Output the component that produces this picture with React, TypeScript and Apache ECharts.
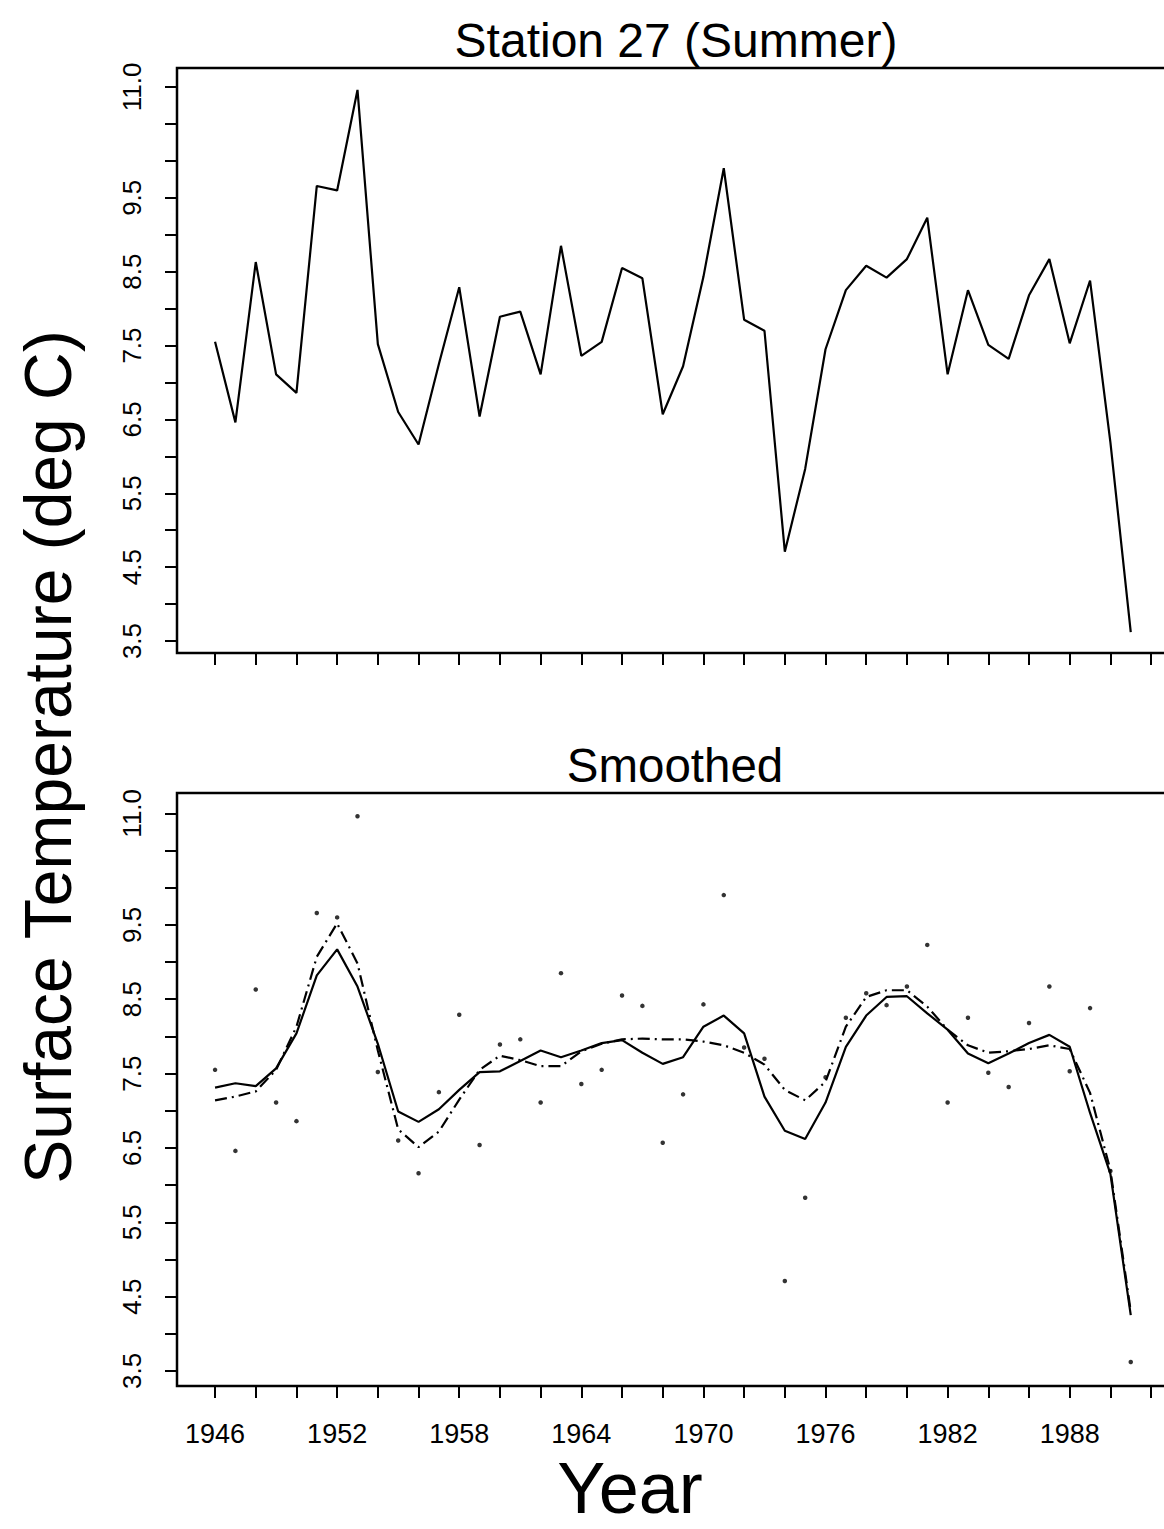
import React, { useEffect, useRef } from "react";
import * as echarts from "echarts";

const years = [
  1946, 1947, 1948, 1949, 1950, 1951, 1952, 1953, 1954, 1955,
  1956, 1957, 1958, 1959, 1960, 1961, 1962, 1963, 1964, 1965,
  1966, 1967, 1968, 1969, 1970, 1971, 1972, 1973, 1974, 1975,
  1976, 1977, 1978, 1979, 1980, 1981, 1982, 1983, 1984, 1985,
  1986, 1987, 1988, 1989, 1990, 1991,
];

const rawTemp = [
  7.55, 6.46, 8.63, 7.11, 6.86, 9.66, 9.6, 10.96, 7.52, 6.6,
  6.16, 7.25, 8.29, 6.54, 7.89, 7.96, 7.11, 8.85, 7.36, 7.55,
  8.55, 8.41, 6.57, 7.22, 8.43, 9.9, 7.85, 7.7, 4.71, 5.83,
  7.45, 8.25, 8.58, 8.42, 8.67, 9.23, 7.11, 8.25, 7.51, 7.32,
  8.18, 8.67, 7.53, 8.38, 6.19, 3.62,
];

const smoothSolid = [
  7.31, 7.37, 7.33, 7.57, 8.04, 8.82, 9.17, 8.67, 7.9, 6.99,
  6.85, 7.02, 7.28, 7.52, 7.53, 7.67, 7.81, 7.72, 7.81, 7.91,
  7.95, 7.78, 7.63, 7.72, 8.13, 8.28, 8.04, 7.19, 6.73, 6.62,
  7.11, 7.86, 8.28, 8.53, 8.54, 8.31, 8.09, 7.77, 7.64, 7.77,
  7.91, 8.02, 7.86, 6.97, 6.15, 4.25,
];

const smoothDashDot = [
  7.14, 7.19, 7.26, 7.55, 8.13, 9.07, 9.52, 8.98, 7.81, 6.75,
  6.51, 6.72, 7.15, 7.55, 7.74, 7.68, 7.6, 7.6, 7.8, 7.9,
  7.96, 7.97, 7.96, 7.96, 7.93, 7.88, 7.78, 7.62, 7.28, 7.14,
  7.39, 8.13, 8.53, 8.62, 8.62, 8.4, 8.09, 7.88, 7.78, 7.8,
  7.83, 7.88, 7.83, 7.24, 6.2, 4.3,
];

const yTickValues = [
  3.5, 4.0, 4.5, 5.0, 5.5, 6.0, 6.5, 7.0, 7.5, 8.0, 8.5, 9.0, 9.5, 10.0, 10.5, 11.0,
];
const yLabelValues = [3.5, 4.5, 5.5, 6.5, 7.5, 8.5, 9.5, 11.0];
const xTickValues = [
  1946, 1948, 1950, 1952, 1954, 1956, 1958, 1960, 1962, 1964, 1966, 1968,
  1970, 1972, 1974, 1976, 1978, 1980, 1982, 1984, 1986, 1988, 1990, 1992,
];
const xLabelValues = [1946, 1952, 1958, 1964, 1970, 1976, 1982, 1988];

const FONT = '"Liberation Sans", Arial, Helvetica, sans-serif';

export default function App() {
  const ref = useRef<HTMLDivElement>(null);

  useEffect(() => {
    if (!ref.current) return;
    const chart = echarts.init(ref.current, null, { renderer: "svg" });

    const X_MIN = 1944.13;
    const X_MAX = 1993.42;

    const gridBase = {
      left: 177,
      width: 1003,
      show: true,
      borderColor: "#000",
      borderWidth: 2.5,
      backgroundColor: "transparent",
      containLabel: false,
      outerBoundsMode: "none",
    };

    const tickStyle = { color: "#000", width: 2 };

    const makeX = (gridIndex: number, showLabels: boolean) => ({
      gridIndex,
      type: "value",
      min: X_MIN,
      max: X_MAX,
      axisLine: { show: false },
      splitLine: { show: false },
      axisTick: {
        show: true,
        inside: false,
        length: 12,
        customValues: xTickValues,
        lineStyle: tickStyle,
      },
      axisLabel: {
        show: showLabels,
        customValues: xLabelValues,
        margin: 34,
        fontSize: 27,
        fontFamily: FONT,
        color: "#000",
        formatter: (v: number) => String(Math.round(v)),
      },
    });

    const makeY = (gridIndex: number, min: number, max: number) => ({
      gridIndex,
      type: "value",
      min,
      max,
      axisLine: { show: false },
      splitLine: { show: false },
      axisTick: {
        show: true,
        inside: false,
        length: 12,
        customValues: yTickValues,
        lineStyle: tickStyle,
      },
      axisLabel: {
        show: true,
        customValues: yLabelValues,
        rotate: 90,
        margin: 32,
        fontSize: 26,
        fontFamily: FONT,
        color: "#000",
        formatter: (v: number) => v.toFixed(1),
      },
    });

    const pairs = (vals: number[]) => years.map((y, i) => [y, vals[i]]);

    chart.setOption({
      animation: false,
      backgroundColor: "#fff",
      grid: [
        { ...gridBase, top: 68, height: 585 },
        { ...gridBase, top: 793, height: 593 },
      ],
      xAxis: [makeX(0, false), makeX(1, true)],
      yAxis: [makeY(0, 3.338, 11.257), makeY(1, 3.298, 11.273)],
      graphic: [
        {
          type: "text",
          x: 676,
          y: 40,
          style: {
            text: "Station 27 (Summer)",
            fontSize: 48,
            fontFamily: FONT,
            fill: "#000",
            align: "center",
            verticalAlign: "middle",
          },
        },
        {
          type: "text",
          x: 675,
          y: 765,
          style: {
            text: "Smoothed",
            fontSize: 47.5,
            fontFamily: FONT,
            fill: "#000",
            align: "center",
            verticalAlign: "middle",
          },
        },
        {
          type: "text",
          x: 630,
          y: 1524,
          style: {
            text: "Year",
            fontSize: 72,
            fontFamily: FONT,
            fill: "#000",
            align: "center",
            verticalAlign: "bottom",
          },
        },
        {
          type: "text",
          x: 48,
          y: 757,
          rotation: Math.PI / 2,
          style: {
            text: "Surface Temperature (deg C)",
            fontSize: 66,
            fontFamily: FONT,
            fill: "#000",
            align: "center",
            verticalAlign: "middle",
          },
        },
      ],
      series: [
        {
          type: "line",
          xAxisIndex: 0,
          yAxisIndex: 0,
          data: pairs(rawTemp),
          showSymbol: false,
          symbol: "none",
          lineStyle: { color: "#000", width: 2.2 },
        },
        {
          type: "scatter",
          xAxisIndex: 1,
          yAxisIndex: 1,
          data: pairs(rawTemp),
          symbol: "circle",
          symbolSize: 4.5,
          itemStyle: { color: "#000" },
        },
        {
          type: "line",
          xAxisIndex: 1,
          yAxisIndex: 1,
          data: pairs(smoothSolid),
          showSymbol: false,
          symbol: "none",
          lineStyle: { color: "#000", width: 2.2 },
        },
        {
          type: "line",
          xAxisIndex: 1,
          yAxisIndex: 1,
          data: pairs(smoothDashDot),
          showSymbol: false,
          symbol: "none",
          lineStyle: { color: "#000", width: 2.2, type: [12, 5, 2, 5] },
        },
      ],
    });

    return () => chart.dispose();
  }, []);

  return (
    <div
      ref={ref}
      style={{ position: "absolute", left: 0, top: 0, width: 1164, height: 1529 }}
    />
  );
}
